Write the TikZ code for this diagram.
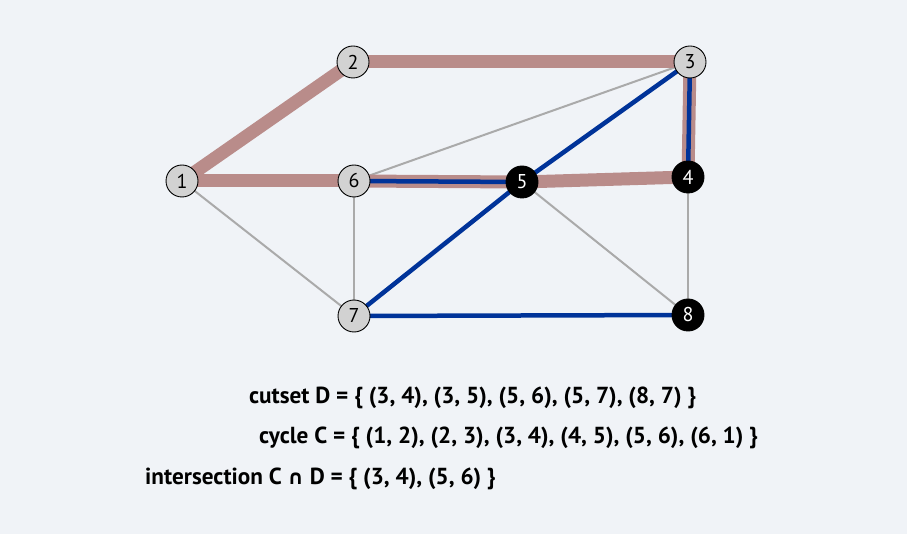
\documentclass[tikz,border=0pt]{standalone}
\usepackage{fontspec}
\setmainfont{PT Sans}
\newfontfamily\symfont{DejaVu Sans}
\definecolor{bgc}{RGB}{240,243,247}
\definecolor{cyc}{RGB}{185,140,138}
\definecolor{cutblue}{RGB}{0,51,153}
\definecolor{plaingray}{RGB}{170,170,170}
\definecolor{vfill}{RGB}{210,210,210}
\begin{document}
\begin{tikzpicture}[x=1pt,y=-1pt,
  vert/.style={circle,draw=black,line width=0.9pt,fill=vfill,minimum size=32pt,inner sep=0pt,font=\fontsize{20}{20}\selectfont},
  bvert/.style={vert,fill=black,text=white},
  cycedge/.style={draw=cyc,line width=13pt},
  cutedge/.style={draw=cutblue,line width=4.5pt},
  plain/.style={draw=plaingray,line width=2pt},
  lab/.style={anchor=west,inner sep=0pt,font=\fontsize{23.2}{23}\selectfont\bfseries}]
\fill[bgc] (0,0) rectangle (907,534);
\useasboundingbox (0,0) rectangle (907,534);
\coordinate (p1) at (182,181);
\coordinate (p2) at (353,62);
\coordinate (p3) at (690,62);
\coordinate (p4) at (688,177);
\coordinate (p5) at (522,182);
\coordinate (p6) at (354,181);
\coordinate (p7) at (354,316);
\coordinate (p8) at (688,315);
% thin edges
\draw[plain] (p1) -- (p7);
\draw[plain] (p6) -- (p3);
\draw[plain] (p6) -- (p7);
\draw[plain] (p5) -- (p8);
\draw[plain] (p4) -- (p8);
% cycle edges
\draw[cycedge] (p1) -- (p2);
\draw[cycedge] (p2) -- (p3);
\draw[cycedge] (p3) -- (p4);
\draw[cycedge] (p4) -- (p5);
\draw[cycedge] (p5) -- (p6);
\draw[cycedge] (p6) -- (p1);
% cut edges
\draw[cutedge] (p3) -- (p4);
\draw[cutedge] (p3) -- (p5);
\draw[cutedge] (p5) -- (p6);
\draw[cutedge] (p5) -- (p7);
\draw[cutedge] (p7) -- (p8);
% vertices
\node[vert] (n1) at (p1) {1};
\node[vert] (n2) at (p2) {2};
\node[vert] (n3) at (p3) {3};
\node[bvert] (n4) at (p4) {4};
\node[bvert] (n5) at (p5) {5};
\node[vert] (n6) at (p6) {6};
\node[vert] (n7) at (p7) {7};
\node[bvert] (n8) at (p8) {8};
% labels
\node[lab] (t1) at (249,398) {cutset D = \{ (3, 4), (3, 5), (5, 6), (5, 7), (8, 7) \}};
\node[lab] (t2) at (259,438) {cycle C = \{ (1, 2), (2, 3), (3, 4), (4, 5), (5, 6), (6, 1) \}};
\node[lab] (t3) at (145,479) {intersection C {\symfont\bfseries\fontsize{20}{20}\selectfont ∩} D = \{ (3, 4), (5, 6) \}};
\end{tikzpicture}
\end{document}
